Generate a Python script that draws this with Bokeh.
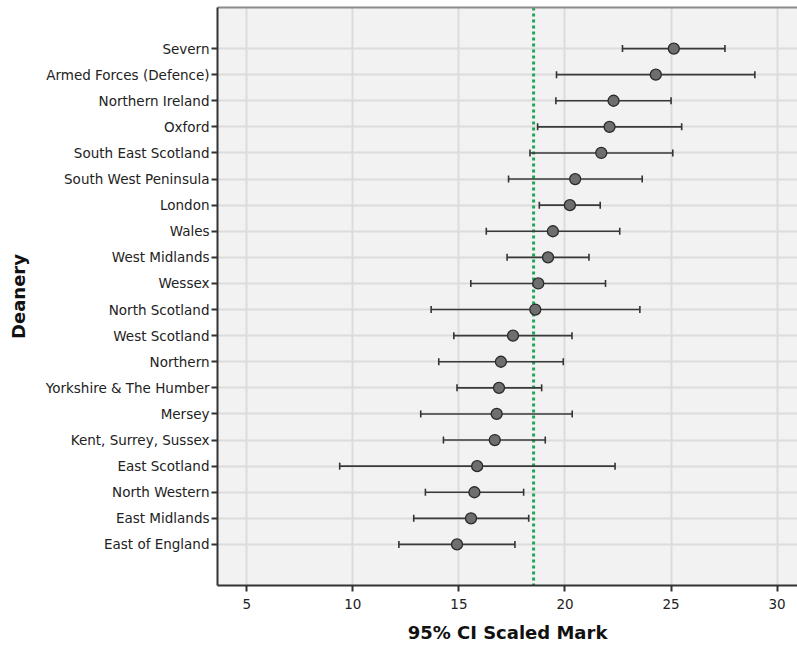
import math
from bokeh.plotting import figure
from bokeh.models import FixedTicker, Span, LinearAxis, Range1d, ColumnDataSource
from bokeh.embed import file_html
from bokeh.resources import INLINE

# Data (top to bottom as displayed)
deaneries = [
    "Severn", "Armed Forces (Defence)", "Northern Ireland", "Oxford",
    "South East Scotland", "South West Peninsula", "London", "Wales",
    "West Midlands", "Wessex", "North Scotland", "West Scotland", "Northern",
    "Yorkshire & The Humber", "Mersey", "Kent, Surrey, Sussex", "East Scotland",
    "North Western", "East Midlands", "East of England",
]
means = [25.13, 24.28, 22.29, 22.10, 21.71, 20.48, 20.23, 19.43, 19.20, 18.74,
         18.60, 17.55, 16.98, 16.89, 16.78, 16.69, 15.86, 15.73, 15.57, 14.91]
lowers = [22.71, 19.60, 19.57, 18.71, 18.35, 17.34, 18.79, 16.29, 17.27, 15.56,
          13.69, 14.76, 14.05, 14.91, 13.20, 14.27, 9.38, 13.42, 12.87, 12.17]
uppers = [27.54, 28.95, 25.00, 25.50, 25.08, 23.64, 21.66, 22.58, 21.13, 21.91,
          23.53, 20.33, 19.92, 18.90, 20.34, 19.07, 22.36, 18.05, 18.29, 17.64]
ref_value = 18.52
x_ticks = [5, 10, 15, 20, 25, 30]

n = len(deaneries)
ypos = [n - i for i in range(n)]

src = ColumnDataSource(dict(y=ypos, mean=means, lo=lowers, hi=uppers, name=deaneries))

p = figure(width=797, height=645, output_backend="svg", toolbar_location=None,
           x_range=Range1d(3.62, 30.96), y_range=Range1d(-0.574, n + 1.574),
           min_border_left=217, min_border_right=0, min_border_top=7,
           min_border_bottom=58)

p.background_fill_color = "#f2f2f2"
p.border_fill_color = "white"
p.outline_line_color = None

# Axes
p.xaxis.ticker = FixedTicker(ticks=x_ticks)
p.yaxis.ticker = FixedTicker(ticks=ypos)
p.yaxis.major_label_overrides = {y: nm for y, nm in zip(ypos, deaneries)}
for ax in (p.xaxis[0], p.yaxis[0]):
    ax.axis_line_color = "#333333"
    ax.axis_line_width = 2
    ax.major_tick_line_color = "#333333"
    ax.major_tick_line_width = 2
    ax.major_tick_out = 6
    ax.major_tick_in = 0
    ax.minor_tick_line_color = None
    ax.major_label_text_font = "DejaVu Sans"
    ax.major_label_text_font_size = "13.5px"
    ax.major_label_text_color = "#222222"
    ax.axis_label_text_font = "DejaVu Sans"
    ax.axis_label_text_font_style = "bold"
    ax.axis_label_text_font_size = "18px"
    ax.axis_label_text_color = "#111111"
p.yaxis.axis_label = "Deanery"
p.xaxis.axis_label = "95% CI Scaled Mark"
p.yaxis.major_label_standoff = 2
p.xaxis.major_label_standoff = 7
p.xaxis.axis_label_standoff = 10
p.yaxis.axis_label_standoff = 14

# top border
top = LinearAxis(ticker=FixedTicker(ticks=[]), major_label_text_font_size="0px",
                 axis_line_color="#8a8a8a", axis_line_width=2,
                 major_tick_line_color=None, minor_tick_line_color=None)
p.add_layout(top, "above")

# Grid
p.xgrid.grid_line_color = "#dcdcdc"
p.xgrid.grid_line_width = 2
p.ygrid.grid_line_color = "#dcdcdc"
p.ygrid.grid_line_width = 2

# Reference line
p.add_layout(Span(location=ref_value, dimension="height", line_color="#21a45c",
                  line_width=3, line_dash="3 3", level="underlay"))

# Error bars
p.segment(x0="lo", y0="y", x1="hi", y1="y", source=src, line_color="#3a3a3a", line_width=1.6)
p.scatter(x="lo", y="y", source=src, marker="dash", angle=math.pi / 2, size=7,
          line_color="#333333", line_width=1.6)
p.scatter(x="hi", y="y", source=src, marker="dash", angle=math.pi / 2, size=7,
          line_color="#333333", line_width=1.6)
p.scatter(x="mean", y="y", source=src, marker="circle", size=11,
          fill_color="#6e6e6e", line_color="#2a2a2a", line_width=1.3)

open("out.html", "w").write(file_html(p, INLINE))
